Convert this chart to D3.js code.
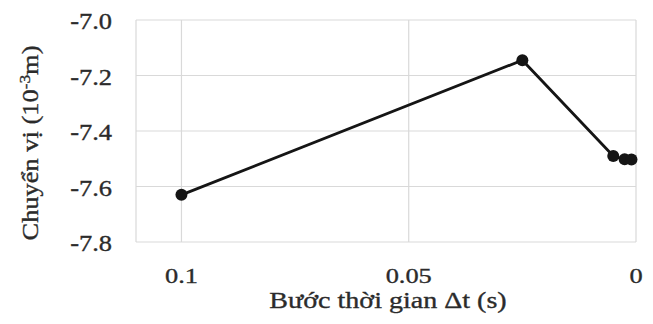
<!DOCTYPE html>
<html>
<head>
<meta charset="utf-8">
<script src="https://cdn.jsdelivr.net/npm/d3@7"></script>
<style>
  body { margin: 0; background: #fff; }
  text { font-family: "Liberation Serif", "Times New Roman", serif; fill: #2b2b2b; stroke: #2b2b2b; stroke-width: 0.35px; }
</style>
</head>
<body>
<div id="chart"></div>
<script>
// data
const timeSteps = [0.1, 0.025, 0.005, 0.0025, 0.001];
const displacement = [-7.63, -7.145, -7.49, -7.502, -7.503];
const yTicks = [-7.0, -7.2, -7.4, -7.6, -7.8];
const xTicks = [0.1, 0.05, 0];

const width = 653, height = 324;
const margin = { left: 136, right: 17, top: 20, bottom: 82 };
const stretch = 1.15; // the original font runs a bit wider than Liberation Serif

const svg = d3.select("#chart").append("svg")
    .attr("width", width)
    .attr("height", height);

// reversed x axis, like Excel "values in reverse order"
const x = d3.scaleLinear()
    .domain([0.11, 0])
    .range([margin.left, width - margin.right]);
const y = d3.scaleLinear()
    .domain([-7.8, -7.0])
    .range([height - margin.bottom, margin.top]);

// grid
svg.append("g").selectAll("line")
    .data(yTicks)
    .join("line")
    .attr("x1", margin.left).attr("x2", width - margin.right)
    .attr("y1", d => y(d)).attr("y2", d => y(d))
    .style("stroke", "#d9d9d9").style("stroke-width", 1.2);

svg.append("g").selectAll("line")
    .data(xTicks)
    .join("line")
    .attr("x1", d => x(d)).attr("x2", d => x(d))
    .attr("y1", margin.top).attr("y2", height - margin.bottom)
    .style("stroke", "#d9d9d9").style("stroke-width", 1.2);

// left edge of plot area
svg.append("line")
    .attr("x1", margin.left).attr("x2", margin.left)
    .attr("y1", margin.top).attr("y2", height - margin.bottom)
    .style("stroke", "#d9d9d9").style("stroke-width", 1.2);

// tick labels
svg.append("g").selectAll("text")
    .data(yTicks)
    .join("text")
    .attr("transform", d => `translate(112, ${y(d) + 9}) scale(${stretch}, 1)`)
    .attr("text-anchor", "end")
    .style("font-size", "23px")
    .text(d => d.toFixed(1));

svg.append("g").selectAll("text")
    .data(xTicks)
    .join("text")
    .attr("transform", d => `translate(${x(d)}, 283) scale(1.2, 1)`)
    .attr("text-anchor", "middle")
    .style("font-size", "22px")
    .text(d => d === 0 ? "0" : String(d));

// axis titles
svg.append("text")
    .attr("transform", `translate(388, 308) scale(1.22, 1)`)
    .attr("text-anchor", "middle")
    .style("font-size", "23px")
    .text("Bước thời gian Δt (s)");

const yt = svg.append("text")
    .attr("transform", `translate(38, 143) rotate(-90) scale(${stretch}, 1)`)
    .attr("text-anchor", "middle")
    .style("font-size", "23px");
yt.append("tspan").text("Chuyển vị (10");
yt.append("tspan").attr("dy", -8).style("font-size", "15px").text("-3");
yt.append("tspan").attr("dy", 8).text("m)");

// series
const pts = timeSteps.map((t, i) => [t, displacement[i]]);
svg.append("path")
    .datum(pts)
    .attr("d", d3.line().x(d => x(d[0])).y(d => y(d[1])))
    .style("fill", "none")
    .style("stroke", "#151515")
    .style("stroke-width", 2.8);

svg.append("g").selectAll("circle")
    .data(pts)
    .join("circle")
    .attr("cx", d => x(d[0]))
    .attr("cy", d => y(d[1]))
    .attr("r", 6)
    .style("fill", "#151515");
</script>
</body>
</html>
